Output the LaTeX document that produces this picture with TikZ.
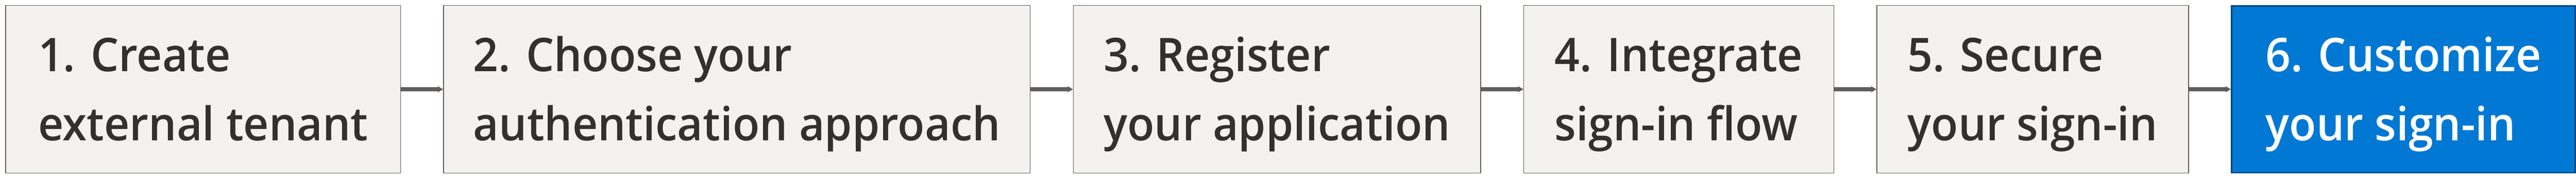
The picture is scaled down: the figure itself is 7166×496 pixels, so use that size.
\documentclass[tikz,border=0pt]{standalone}
\usepackage{fontspec}
\IfFontExistsTF{Open Sans SemiBold}{\newfontfamily\boxfont{Open Sans SemiBold}[FakeStretch=0.952]}{%
  \IfFontExistsTF{Open Sans Semibold}{\newfontfamily\boxfont{Open Sans Semibold}[FakeStretch=0.952]}{%
    \newfontfamily\boxfontbase{Open Sans}[FakeStretch=0.952]\newcommand\boxfont{\boxfontbase\bfseries}}}
\usetikzlibrary{arrows.meta}
\definecolor{boxfill}{HTML}{F3F2F1}
\definecolor{boxline}{HTML}{605E5C}
\definecolor{boxtext}{HTML}{323130}
\definecolor{bluefill}{HTML}{0078D4}
\definecolor{blueline}{HTML}{004578}
\definecolor{arrowgray}{HTML}{605E5C}
\tikzset{
  stepbox/.style={draw=boxline, line width=2pt, fill=boxfill, text=boxtext,
    inner xsep=0pt, inner ysep=0pt, minimum height=466pt, align=left,
    text height=334pt, text depth=50pt, anchor=west,
    font=\boxfont\fontsize{129}{192}\selectfont},
  laststep/.style={stepbox, draw=blueline, line width=4pt, fill=bluefill, text=white, minimum height=464pt},
  flow/.style={draw=arrowgray, line width=12pt, -{Triangle[length=15pt,width=16pt]}}
}
\begin{document}
\begin{tikzpicture}[x=1pt,y=1pt]
\useasboundingbox (0,0) rectangle (7166,496);
\fill[white] (0,0) rectangle (7166,496);
\node[stepbox, minimum width=1098pt] (s1) at (15,248) {1. Create\\external tenant};
\node[stepbox, minimum width=1632pt] (s2) at (1233,248) {2. Choose your\\authentication approach};
\node[stepbox, minimum width=1133pt] (s3) at (2985,248) {3. Register\\your application};
\node[stepbox, minimum width=862pt] (s4) at (4238,248) {4. Integrate\\sign-in flow};
\node[stepbox, minimum width=867pt] (s5) at (5220,248) {5. Secure\\your sign-in};
\node[laststep, minimum width=956pt] (s6) at (6206,248) {6. Customize\\your sign-in};
\draw[flow] (s1.east) -- (s2.west);
\draw[flow] (s2.east) -- (s3.west);
\draw[flow] (s3.east) -- (s4.west);
\draw[flow] (s4.east) -- (s5.west);
\draw[flow] (s5.east) -- (s6.west);
\end{tikzpicture}
\end{document}
